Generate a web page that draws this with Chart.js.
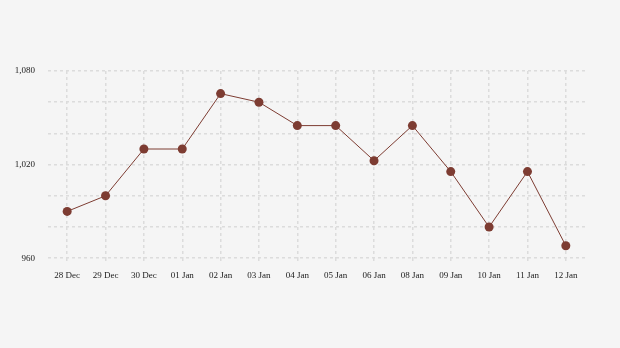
<!DOCTYPE html>
<html>
<head>
<meta charset="utf-8">
<script src="https://cdn.jsdelivr.net/npm/chart.js@4/dist/chart.umd.min.js"></script>
<style>
html,body{margin:0;padding:0;background:#f5f5f5;}
#wrap{width:620px;height:348px;position:relative;}
</style>
</head>
<body>
<div id="wrap"><canvas id="c" width="620" height="348"></canvas></div>
<script>
const categories = ["28 Dec","29 Dec","30 Dec","01 Jan","02 Jan","03 Jan","04 Jan","05 Jan","06 Jan","08 Jan","09 Jan","10 Jan","11 Jan","12 Jan"];
const values = [990,1000,1030,1030,1065.5,1060,1045,1045,1022.5,1045,1015.5,980,1015.5,968];
const yLabelValues = [960,1020,1080];

const col = '#7d3c32';
new Chart(document.getElementById('c'), {
  type: 'line',
  data: {
    labels: categories,
    datasets: [{
      data: values,
      borderColor: col,
      backgroundColor: col,
      borderWidth: 1,
      pointRadius: 4.5,
      pointHoverRadius: 4.5,
      pointBackgroundColor: col,
      pointBorderColor: col,
      pointBorderWidth: 0,
      tension: 0,
      fill: false
    }]
  },
  options: {
    responsive: false,
    animation: false,
    devicePixelRatio: 1,
    layout: { padding: { top: 71, right: 35, left: 0, bottom: 60 } },
    plugins: { legend: { display: false }, tooltip: { enabled: false } },
    scales: {
      x: {
        offset: true,
        grid: { color: '#dcdcdc', lineWidth: 1.5, tickLength: 5, drawTicks: true, tickBorderDash:[3,3], tickColor:'#dcdcdc' },
        border: { display: false, dash: [3,3] },
        ticks: { color: '#222', font: { family: 'Liberation Serif', size: 9 }, padding: 7, maxRotation: 0, autoSkip: false }
      },
      y: {
        min: 960, max: 1080,
        afterFit: (s) => { s.width = 48; },
        grid: { color: '#dcdcdc', lineWidth: 1.5, drawTicks: false },
        border: { display: false, dash: [3,3] },
        ticks: {
          stepSize: 20,
          padding: 13,
          color: '#222',
          font: { family: 'Liberation Serif', size: 9 },
          callback: (v) => yLabelValues.includes(v) ? v.toLocaleString('en-US') : ''
        }
      }
    }
  }
});
</script>
</body>
</html>
